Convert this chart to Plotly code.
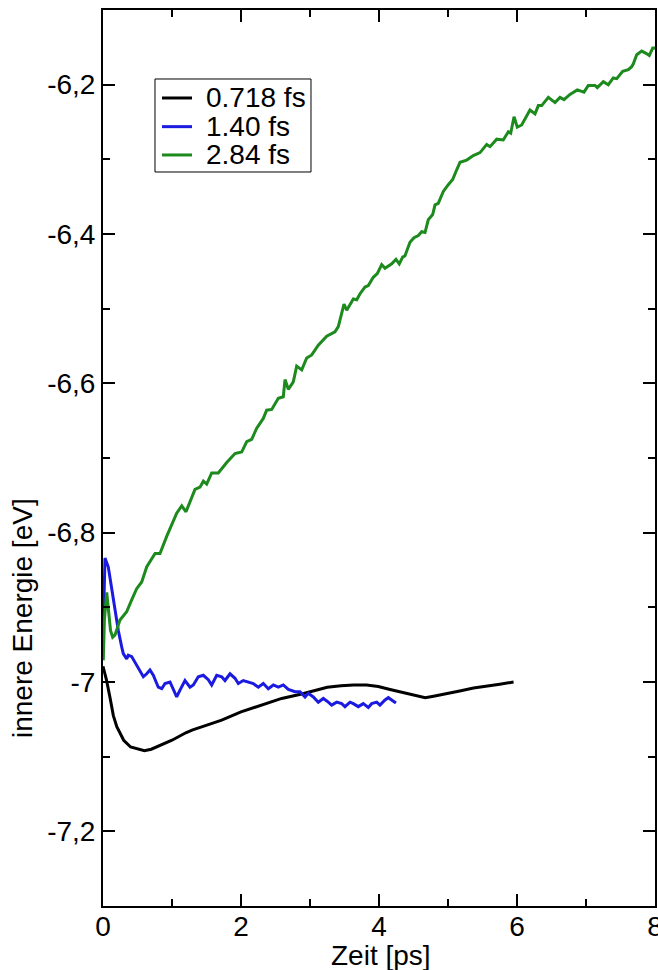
import plotly.graph_objects as go

# ---- data (time in ps, internal energy in eV) ----
t_0718 = [0.0, 0.02, 0.05, 0.10, 0.15, 0.20, 0.30, 0.40, 0.50, 0.60, 0.70, 0.80, 1.00, 1.20, 1.30,
          1.43, 1.72, 2.00, 2.30, 2.59, 2.88, 3.07, 3.25, 3.45, 3.63, 3.82, 3.99, 4.16, 4.30,
          4.45, 4.59, 4.67, 4.79, 4.98, 5.17, 5.37, 5.56, 5.75, 5.95]
e_0718 = [-6.979, -6.985, -6.997, -7.020, -7.045, -7.060, -7.078, -7.087, -7.090, -7.092, -7.090,
          -7.086, -7.078, -7.068, -7.064, -7.060, -7.051, -7.040, -7.031, -7.022, -7.016, -7.011,
          -7.007, -7.005, -7.004, -7.004, -7.006, -7.010, -7.013, -7.017, -7.020, -7.021, -7.019,
          -7.015, -7.012, -7.008, -7.005, -7.003, -7.000]

t_140 = [0.004, 0.015, 0.029, 0.077, 0.126, 0.174, 0.222, 0.271, 0.294, 0.343, 0.367, 0.416, 0.488,
         0.584, 0.633, 0.681, 0.729, 0.801, 0.851, 0.899, 0.971, 1.068, 1.116, 1.188, 1.261, 1.309,
         1.381, 1.454, 1.526, 1.575, 1.648, 1.720, 1.768, 1.841, 1.913, 1.961, 2.033, 2.106, 2.178,
         2.251, 2.323, 2.396, 2.468, 2.541, 2.613, 2.686, 2.783, 2.855, 2.928, 2.975, 3.048, 3.120,
         3.193, 3.265, 3.314, 3.387, 3.459, 3.507, 3.580, 3.628, 3.700, 3.772, 3.845, 3.894, 3.967,
         4.014, 4.087, 4.135, 4.184, 4.246]
e_140 = [-6.928, -6.890, -6.834, -6.846, -6.877, -6.904, -6.931, -6.953, -6.962, -6.969, -6.964,
         -6.966, -6.977, -6.993, -6.989, -6.984, -6.991, -7.007, -7.009, -7.002, -7.000, -7.020,
         -7.011, -6.998, -7.007, -7.004, -6.993, -6.991, -6.997, -7.004, -6.991, -6.993, -6.998,
         -6.989, -6.995, -7.002, -6.998, -7.000, -7.002, -7.007, -7.002, -7.009, -7.004, -7.007,
         -7.004, -7.010, -7.013, -7.013, -7.020, -7.015, -7.020, -7.027, -7.022, -7.027, -7.031,
         -7.027, -7.029, -7.033, -7.027, -7.029, -7.033, -7.029, -7.034, -7.029, -7.027, -7.031,
         -7.024, -7.021, -7.024, -7.028]

t_284 = [0.004, 0.02, 0.054, 0.08, 0.109, 0.14, 0.174, 0.246, 0.343, 0.416, 0.488, 0.561, 0.633,
         0.754, 0.826, 0.923, 1.068, 1.141, 1.203, 1.333, 1.406, 1.454, 1.503, 1.575, 1.671, 1.793,
         1.913, 2.010, 2.083, 2.155, 2.228, 2.323, 2.372, 2.445, 2.541, 2.613, 2.638, 2.686, 2.758,
         2.807, 2.880, 2.952, 3.025, 3.120, 3.242, 3.362, 3.410, 3.493, 3.532, 3.628, 3.677, 3.725,
         3.797, 3.845, 3.917, 3.975, 4.039, 4.087, 4.184, 4.246, 4.294, 4.343, 4.377, 4.449, 4.507,
         4.570, 4.619, 4.667, 4.714, 4.778, 4.812, 4.859, 4.932, 5.004, 5.068, 5.126, 5.174, 5.271,
         5.367, 5.464, 5.561, 5.609, 5.706, 5.801, 5.874, 5.909, 5.957, 6.004, 6.068, 6.188, 6.261,
         6.309, 6.358, 6.454, 6.551, 6.623, 6.681, 6.768, 6.874, 6.971, 7.033, 7.130, 7.164, 7.251,
         7.323, 7.396, 7.445, 7.532, 7.613, 7.662, 7.686, 7.735, 7.807, 7.870, 7.917, 7.967, 8.0]
e_284 = [-6.971, -6.917, -6.880, -6.904, -6.931, -6.940, -6.937, -6.917, -6.906, -6.890, -6.875,
         -6.866, -6.846, -6.828, -6.828, -6.805, -6.774, -6.764, -6.772, -6.742, -6.739, -6.731,
         -6.735, -6.720, -6.720, -6.706, -6.694, -6.692, -6.678, -6.675, -6.660, -6.647, -6.636,
         -6.635, -6.620, -6.618, -6.595, -6.608, -6.598, -6.577, -6.582, -6.566, -6.562, -6.549,
         -6.537, -6.531, -6.524, -6.494, -6.502, -6.487, -6.488, -6.480, -6.471, -6.469, -6.458,
         -6.453, -6.441, -6.446, -6.440, -6.434, -6.440, -6.431, -6.429, -6.411, -6.405, -6.402,
         -6.397, -6.398, -6.381, -6.374, -6.361, -6.359, -6.343, -6.334, -6.327, -6.314, -6.304,
         -6.301, -6.295, -6.291, -6.280, -6.283, -6.273, -6.274, -6.263, -6.265, -6.243, -6.257,
         -6.254, -6.234, -6.239, -6.228, -6.228, -6.217, -6.224, -6.217, -6.220, -6.213, -6.207,
         -6.210, -6.201, -6.201, -6.204, -6.196, -6.200, -6.191, -6.192, -6.182, -6.180, -6.176,
         -6.172, -6.160, -6.155, -6.158, -6.161, -6.151, -6.151]

series_names = ["0.718 fs", "1.40 fs", "2.84 fs"]
series_colors = ["#000000", "#1a1ae0", "#1d8a1d"]

x_tickvals = [0, 2, 4, 6, 8]
x_ticktext = ["0", "2", "4", "6", "8"]
y_tickvals = [-7.2, -7.0, -6.8, -6.6, -6.4, -6.2]
y_ticktext = ["-7,2", "-7", "-6,8", "-6,6", "-6,4", "-6,2"]
x_title = "Zeit [ps]"
y_title = "innere Energie [eV]"

FONT = "Liberation Sans, Arial, sans-serif"
FS = 28

fig = go.Figure()
for t, e, name, col in zip([t_0718, t_140, t_284], [e_0718, e_140, e_284], series_names, series_colors):
    fig.add_trace(go.Scatter(x=t, y=e, mode="lines", name=name, showlegend=False,
                             line=dict(color=col, width=3)))

axis_common = dict(
    showline=True, linecolor="black", linewidth=2, mirror="ticks",
    ticks="inside", ticklen=12, tickwidth=2, tickcolor="black",
    showgrid=False, zeroline=False, automargin=False,
    tickfont=dict(family=FONT, size=FS, color="black"),
)

fig.update_xaxes(range=[0, 8], tickvals=x_tickvals, ticktext=x_ticktext,
                 ticklabeloverflow="allow", ticklabelstandoff=-6,
                 minor=dict(dtick=1, ticks="inside", ticklen=7, tickwidth=1.5, tickcolor="black"),
                 **axis_common)
fig.update_yaxes(range=[-7.3, -6.1], tickvals=y_tickvals, ticktext=y_ticktext,
                 minor=dict(dtick=0.1, tick0=0, ticks="inside", ticklen=7, tickwidth=1.5, tickcolor="black"),
                 **axis_common)

# axis titles placed as in the reference
fig.add_annotation(xref="paper", yref="paper", x=0.5036, y=-0.0547, text=x_title, showarrow=False,
                   xanchor="center", yanchor="middle", font=dict(family=FONT, size=FS, color="black"))
fig.add_annotation(xref="paper", yref="paper", x=-0.1467, y=0.3214, text=y_title, showarrow=False,
                   textangle=-90, xanchor="center", yanchor="middle",
                   font=dict(family=FONT, size=FS, color="black"))

# ---- legend drawn as a framed box (layout in paper coordinates) ----
leg_x0, leg_x1, leg_y0, leg_y1 = 0.0942, 0.3768, 0.8192, 0.9230
row_y = [0.9018, 0.8698, 0.8382]
fig.add_shape(type="rect", xref="paper", yref="paper", x0=leg_x0, x1=leg_x1, y0=leg_y0, y1=leg_y1,
              line=dict(color="black", width=1), fillcolor="white", layer="above")
for ry, name, col in zip(row_y, series_names, series_colors):
    fig.add_shape(type="line", xref="paper", yref="paper", x0=0.1069, x1=0.1612, y0=ry, y1=ry,
                  line=dict(color=col, width=3), layer="above")
    fig.add_annotation(xref="paper", yref="paper", x=0.1830, y=ry, text=name, showarrow=False,
                       xanchor="left", yanchor="middle",
                       font=dict(family=FONT, size=FS, color="black"))

fig.update_layout(
    width=658, height=970,
    margin=dict(l=103, r=3, t=10, b=64),
    paper_bgcolor="white", plot_bgcolor="white",
    font=dict(family=FONT, size=FS, color="black"),
    showlegend=False,
)

fig.write_html("out.html")
